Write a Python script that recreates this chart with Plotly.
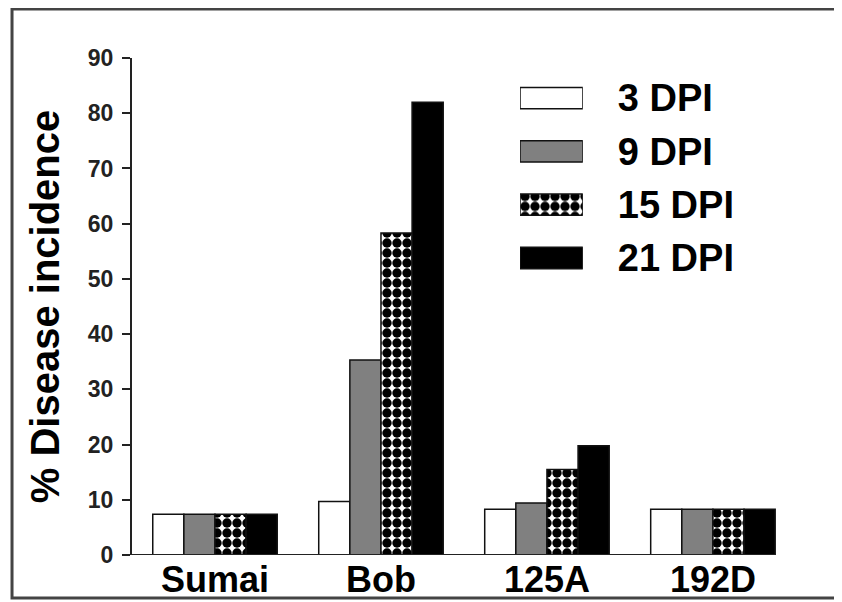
import plotly.graph_objects as go

# ---- data ----
categories = ["Sumai", "Bob", "125A", "192D"]
series_names = ["3 DPI", "9 DPI", "15 DPI", "21 DPI"]
dpi3 = [7.4, 9.7, 8.3, 8.3]
dpi9 = [7.4, 35.3, 9.4, 8.3]
dpi15 = [7.4, 58.3, 15.5, 8.3]
dpi21 = [7.4, 82.0, 19.8, 8.3]
y_ticks = [0, 10, 20, 30, 40, 50, 60, 70, 80, 90]

series_values = [dpi3, dpi9, dpi15, dpi21]

FONT = "Arial, 'Liberation Sans', sans-serif"
line_col = "#111111"

styles = [
    dict(color="white"),
    dict(color="#808080"),
    dict(color="white", pattern=dict(shape=".", fgcolor="black", bgcolor="white",
                                     fgopacity=1, size=10, solidity=0.7,
                                     fillmode="replace")),
    dict(color="black"),
]

fig = go.Figure()
for name, vals, st in zip(series_names, series_values, styles):
    fig.add_trace(go.Bar(
        x=categories, y=vals, name=name, showlegend=False,
        marker=dict(**st, line=dict(color=line_col, width=1.5)),
        xaxis="x", yaxis="y",
    ))

# custom legend with large swatches drawn on an overlay axis pair
for name, st in zip(series_names, styles):
    fig.add_trace(go.Bar(
        y=[name], x=[1], orientation="h", width=0.4, showlegend=False,
        marker=dict(**st, line=dict(color=line_col, width=1.5)),
        xaxis="x2", yaxis="y2", hoverinfo="skip",
    ))

# the page adds an 8px body margin, so the figure is sized to fit the window
fig.update_layout(
    width=834, height=594,
    margin=dict(l=124, r=66, t=50, b=47, autoexpand=False),
    paper_bgcolor="white", plot_bgcolor="white",
    barmode="group", bargap=0.25, bargroupgap=0,
    font=dict(family=FONT, color="black"),
    xaxis=dict(
        domain=[0, 1], type="category", categoryorder="array", categoryarray=categories,
        range=[-0.5, 3.38], showline=False, showgrid=False, zeroline=False,
        ticks="", tickfont=dict(size=36, weight="bold", family=FONT),
        ticklabelstandoff=0, automargin=False,
    ),
    yaxis=dict(
        domain=[0, 1], range=[0, 90], tickvals=y_ticks,
        showline=True, linecolor="#222222", linewidth=2,
        ticks="outside", ticklen=8, tickwidth=2, tickcolor="#222222",
        showgrid=False, zeroline=False, automargin=False,
        tickfont=dict(size=23, weight="bold", family=FONT, color="#222222"),
        ticklabelstandoff=4,
        title=dict(text="% Disease incidence", standoff=16,
                   font=dict(size=40, weight="bold", family=FONT)),
    ),
    xaxis2=dict(domain=[0.6025, 0.700], range=[0, 1], anchor="y2",
                visible=False, fixedrange=True, automargin=False),
    yaxis2=dict(domain=[0.544, 0.973], anchor="x2", side="right",
                type="category", categoryorder="array", categoryarray=series_names,
                range=[3.5, -0.5], showline=False, showgrid=False, zeroline=False,
                ticks="", ticklabelstandoff=34, automargin=False,
                tickfont=dict(size=38, weight="bold", family=FONT)),
    shapes=[
        # x baseline
        dict(type="line", xref="paper", yref="y", x0=-0.011, x1=1.0, y0=0, y1=0,
             line=dict(color="#222222", width=2), layer="above"),
        # outer frame of the figure
        dict(type="rect", xref="paper", yref="paper", x0=-0.1863, x1=1.11,
             y0=-0.0865, y1=1.0986, line=dict(color="#444444", width=3)),
    ],
)

fig.write_html("out.html")
